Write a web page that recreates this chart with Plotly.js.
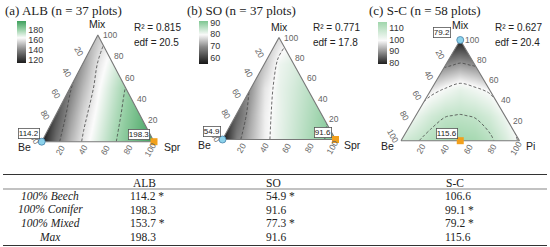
<!DOCTYPE html>
<html>
<head>
<meta charset="utf-8">
<script src="https://cdn.plot.ly/plotly-3.0.1.min.js"></script>
<style>
  html, body { margin: 0; padding: 0; background: #fff; }
  #chart { width: 550px; height: 247px; }
</style>
</head>
<body>
<div id="chart"></div>
<script>
// Grid of the fitted surfaces: x runs along the base (Be -> conifer), y from base to the Mix apex
const gridX = [0, 0.125, 0.25, 0.375, 0.5, 0.625, 0.75, 0.875, 1];
const gridY = [0, 0.25, 0.5, 0.75, 1];

// ALB surface, one row per gridY level
const albRow0 = [114.2, 136.0, 150.3, 161.8, 169.8, 177.8, 184.8, 191.6, 198.3];
const albRow1 = [110, 128, 144.6, 157.8, 166.8, 175.1, 182.7, 189.5, 196];
const albRow2 = [112, 125, 138.5, 152, 163.7, 172.3, 180.5, 188.5, 196];
const albRow3 = [110, 120, 132, 146, 160, 168, 176, 184, 192];
const albRow4 = [116, 126, 136, 145, 153.7, 163, 172, 180, 188];

// SO surface
const soRow0 = [54.9, 68.5, 73.6, 79, 81.8, 84.3, 86.9, 89.5, 91.6];
const soRow1 = [56.6, 64.5, 72.4, 78.8, 81.5, 83.9, 86.3, 88.75, 91.2];
const soRow2 = [58.3, 64.5, 70.7, 78, 81.5, 83.4, 85.6, 87.8, 90];
const soRow3 = [60, 65, 70, 75, 81, 82.5, 84.5, 86.5, 88.5];
const soRow4 = [62, 66, 70, 74, 77.3, 80.5, 83, 85.5, 88];

// S-C surface
const scRow0 = [106.6, 109.3, 112.5, 114.8, 115.6, 114.5, 111.5, 106, 99.1];
const scRow1 = [98, 102.5, 107, 109.7, 110.3, 109.5, 106.5, 101.5, 96];
const scRow2 = [89, 93, 98, 101, 103.5, 101.5, 99, 93.5, 89.5];
const scRow3 = [82, 85, 87, 89, 91, 89.5, 87, 85, 82];
const scRow4 = [76, 77, 78, 78.5, 79.2, 78.5, 78, 77, 76];

const panelTitles = ['(a) ALB (n = 37 plots)', '(b) SO (n = 37 plots)', '(c) S-C (n = 58 plots)'];
const rSquared = ['0.815', '0.771', '0.627'];
const edfVals = ['20.5', '17.8', '20.4'];
const rightVertex = ['Spr', 'Spr', 'Pi'];
const cbTicks = [[120, 140, 160, 180], [60, 70, 80, 90], [80, 90, 100, 110]];
const contourLevels = [[140, 180, 20], [70, 90, 10], [90, 110, 10]];
const ternTicks = [20, 40, 60, 80, 100];

// min (circle) and max (square) points, composition as [Mix, Be, conifer]
const minPts = [[0, 1, 0], [0, 1, 0], [1, 0, 0]];
const maxPts = [[0, 0, 1], [0, 0, 1], [0, 0.5, 0.5]];
const minVals = [114.2, 54.9, 79.2];
const maxVals = [198.3, 91.6, 115.6];

// table below the plots
const tableCols = ['ALB', 'SO', 'S-C'];
const rowLabels = ['100% Beech', '100% Conifer', '100% Mixed', 'Max'];
const albTable = [114.2, 198.3, 153.7, 198.3];
const soTable = [54.9, 91.6, 77.3, 91.6];
const scTable = [106.6, 99.1, 79.2, 115.6];
const albSig = [true, false, true, false];
const soSig = [true, false, true, false];
const scSig = [false, true, true, false];

const W = 550, H = 247;
const px = v => v / W;
const py = v => 1 - v / H;

// pixel geometry of each triangle: left corner x, right corner x, base y, apex y
const geom = [
  {l: 41.7, r: 154, b: 141.7, t: 35},
  {l: 222.5, r: 335.5, b: 139.5, t: 37.5},
  {l: 401, r: 519.5, b: 140.7, t: 40}
];
const pad = 0.04;

const colorscales = [
  [[0, 'rgb(28,28,28)'], [0.3, 'rgb(128,128,128)'], [0.6, 'rgb(252,252,252)'], [0.8, 'rgb(150,208,165)'], [1, 'rgb(62,160,92)']],
  [[0, 'rgb(22,22,22)'], [0.4, 'rgb(138,138,138)'], [0.68, 'rgb(250,250,250)'], [1, 'rgb(125,198,145)']],
  [[0, 'rgb(30,30,30)'], [0.15, 'rgb(90,90,90)'], [0.3, 'rgb(150,150,150)'], [0.56, 'rgb(250,250,250)'], [1, 'rgb(160,214,172)']]
];

const surfaces = [
  [albRow0, albRow1, albRow2, albRow3, albRow4],
  [soRow0, soRow1, soRow2, soRow3, soRow4],
  [scRow0, scRow1, scRow2, scRow3, scRow4]
];
const cbBox = [
  {x: 16.7, top: 20.7, len: 42},
  {x: 199, top: 20.7, len: 42.6},
  {x: 378, top: 21.7, len: 41.6}
];

// composition [Mix, Be, conifer] -> triangle coordinates
function tern(c) {
  return {x: c[2] + c[0] / 2, y: c[0]};
}

const sans = 'Liberation Sans, Arial, sans-serif';
const serif = 'Liberation Serif, Times New Roman, serif';

const data = [];
const layout = {
  width: W, height: H,
  margin: {l: 0, r: 0, t: 0, b: 0},
  paper_bgcolor: '#fff',
  plot_bgcolor: 'rgba(0,0,0,0)',
  showlegend: false,
  annotations: [],
  shapes: []
};

geom.forEach((g, i) => {
  const n = i === 0 ? '' : String(i + 1);
  const xa = 'x' + n, ya = 'y' + n;
  const wpx = g.r - g.l, hpx = g.b - g.t;
  layout['xaxis' + n] = {
    domain: [px(g.l - pad * wpx), px(g.r + pad * wpx)],
    range: [-pad, 1 + pad], visible: false, fixedrange: true, anchor: ya
  };
  layout['yaxis' + n] = {
    domain: [py(g.b + pad * hpx), py(g.t - pad * hpx)],
    range: [-pad, 1 + pad], visible: false, fixedrange: true, anchor: xa
  };

  const z = surfaces[i];
  const lv = contourLevels[i];

  // shaded surface
  data.push({
    type: 'contour', x: gridX, y: gridY, z: z, xaxis: xa, yaxis: ya,
    zauto: false, zmin: minVals[i], zmax: maxVals[i],
    colorscale: colorscales[i],
    autocontour: false,
    contours: {coloring: 'heatmap', showlines: false, start: lv[0], end: lv[1], size: lv[2]},
    line: {width: 0},
    hoverinfo: 'skip',
    showscale: true,
    colorbar: {
      x: px(cbBox[i].x), xanchor: 'left', xpad: 0,
      y: py(cbBox[i].top), yanchor: 'top', ypad: 0,
      len: cbBox[i].len, lenmode: 'pixels', thickness: 9,
      outlinewidth: 0, ticks: '', tickvals: cbTicks[i],
      tickfont: {family: sans, size: 9, color: '#333'}
    }
  });
  // dashed contour lines
  data.push({
    type: 'contour', x: gridX, y: gridY, z: z, xaxis: xa, yaxis: ya,
    autocontour: false,
    contours: {coloring: 'none', showlines: true, start: lv[0], end: lv[1], size: lv[2]},
    line: {color: 'rgb(70,70,70)', width: 0.8, dash: '3px,2px', smoothing: 1},
    hoverinfo: 'skip', showscale: false
  });
  // white mask outside the triangle
  data.push({
    type: 'scatter', mode: 'none', xaxis: xa, yaxis: ya,
    x: [-0.2, 1.2, 1.2, -0.2, -0.2, 0, 0.5, 1, 0, -0.2],
    y: [-0.2, -0.2, 1.2, 1.2, -0.2, 0, 1, 0, 0, -0.2],
    fill: 'toself', fillcolor: '#fff', line: {width: 0}, hoverinfo: 'skip'
  });
  // triangle outline
  data.push({
    type: 'scatter', mode: 'lines', xaxis: xa, yaxis: ya,
    x: [0, 0.5, 1, 0], y: [0, 1, 0, 0],
    line: {color: 'rgb(120,120,120)', width: 1.1}, hoverinfo: 'skip'
  });
  // min and max points
  const pmin = tern(minPts[i]), pmax = tern(maxPts[i]);
  data.push({
    type: 'scatter', mode: 'markers', xaxis: xa, yaxis: ya, cliponaxis: false,
    x: [pmin.x], y: [pmin.y],
    marker: {symbol: 'circle', size: 7, color: 'rgb(140,210,235)', line: {color: 'rgb(70,130,170)', width: 0.8}},
    hoverinfo: 'skip'
  });
  data.push({
    type: 'scatter', mode: 'markers', xaxis: xa, yaxis: ya, cliponaxis: false,
    x: [pmax.x], y: [pmax.y],
    marker: {symbol: 'square', size: 7, color: 'rgb(242,160,28)', line: {width: 0}},
    hoverinfo: 'skip'
  });

  const tickFont = {family: sans, size: 8.5, color: '#666'};
  ternTicks.forEach(v => {
    const f = v / 100;
    const pl = tern([1 - f, f, 0]);
    layout.annotations.push({xref: xa, yref: ya, x: pl.x, y: pl.y, text: String(v), showarrow: false,
      textangle: 60, xshift: -8, yshift: 5, font: tickFont});
    const pb = tern([0, 1 - f, f]);
    layout.annotations.push({xref: xa, yref: ya, x: pb.x, y: pb.y, text: String(v), showarrow: false,
      textangle: -60, xshift: -4, yshift: -8, font: tickFont});
    const pr = tern([f, 0, 1 - f]);
    layout.annotations.push({xref: xa, yref: ya, x: pr.x, y: pr.y, text: String(v), showarrow: false,
      xanchor: 'left', xshift: 3, font: tickFont});
  });

  const vFont = {family: sans, size: 10.5, color: '#222'};
  layout.annotations.push({xref: xa, yref: ya, x: 0.5, y: 1, text: 'Mix', showarrow: false,
    yanchor: 'bottom', yshift: [3, 3, 7][i], font: vFont});
  layout.annotations.push({xref: xa, yref: ya, x: 0, y: 0, text: 'Be', showarrow: false,
    xanchor: 'right', xshift: [-9, -10, -5][i], yshift: -5, font: vFont});
  layout.annotations.push({xref: xa, yref: ya, x: 1, y: 0, text: rightVertex[i], showarrow: false,
    xanchor: 'left', xshift: [8, 6, 4][i], yshift: -5, font: vFont});

  // boxed values next to min and max
  const boxFont = {family: sans, size: 8, color: '#222'};
  const minShift = [[-1.5, 2.5], [-1.5, 2.5], [-9, 2.5]][i];
  const maxShift = [[-4, 2], [-4, 2], [-2, 1.5]][i];
  layout.annotations.push({xref: xa, yref: ya, x: pmin.x, y: pmin.y, text: minVals[i].toFixed(1),
    showarrow: false, xanchor: 'right', yanchor: 'bottom', xshift: minShift[0], yshift: minShift[1],
    bgcolor: '#fff', bordercolor: '#555', borderwidth: 0.8, borderpad: 0, font: boxFont});
  layout.annotations.push({xref: xa, yref: ya, x: pmax.x, y: pmax.y, text: maxVals[i].toFixed(1),
    showarrow: false, xanchor: 'right', yanchor: 'bottom', xshift: maxShift[0], yshift: maxShift[1],
    bgcolor: '#fff', bordercolor: '#555', borderwidth: 0.8, borderpad: 0, font: boxFont});

  // panel title and fit statistics
  layout.annotations.push({xref: 'paper', yref: 'paper', x: px([3, 184.5, 366.5][i]), y: py(10),
    text: panelTitles[i], showarrow: false, xanchor: 'left', yanchor: 'middle',
    font: {family: serif, size: 13, color: '#222'}});
  const statX = px([132, 311, 493][i]);
  layout.annotations.push({xref: 'paper', yref: 'paper', x: statX, y: py(28),
    text: 'R² = ' + rSquared[i], showarrow: false, xanchor: 'left', yanchor: 'middle',
    font: {family: sans, size: 10, color: '#222'}});
  layout.annotations.push({xref: 'paper', yref: 'paper', x: statX, y: py(43),
    text: 'edf = ' + edfVals[i], showarrow: false, xanchor: 'left', yanchor: 'middle',
    font: {family: sans, size: 10, color: '#222'}});
});

// table
const tFont = {family: serif, size: 11.5, color: '#222'};
const rowY = [196, 209.5, 223, 236.5];
const colHeadX = [144, 273, 455];
const colValX = [128, 263.5, 442.5];
const tableVals = [albTable, soTable, scTable];
const tableSig = [albSig, soSig, scSig];
tableCols.forEach((c, j) => {
  layout.annotations.push({xref: 'paper', yref: 'paper', x: px(colHeadX[j]), y: py(182.5), text: c,
    showarrow: false, xanchor: 'center', yanchor: 'middle', font: tFont});
});
rowLabels.forEach((r, k) => {
  layout.annotations.push({xref: 'paper', yref: 'paper', x: px(50), y: py(rowY[k]), text: '<i>' + r + '</i>',
    showarrow: false, xanchor: 'center', yanchor: 'middle', font: tFont});
  tableVals.forEach((vals, j) => {
    layout.annotations.push({xref: 'paper', yref: 'paper', x: px(colValX[j]), y: py(rowY[k]),
      text: vals[k].toFixed(1) + (tableSig[j][k] ? ' *' : ''),
      showarrow: false, xanchor: 'left', yanchor: 'middle', font: tFont});
  });
});
[[174.5, 1], [189, 0.6], [245.5, 1]].forEach(([yy, w]) => {
  layout.shapes.push({type: 'line', xref: 'paper', yref: 'paper', x0: px(3), x1: px(547),
    y0: py(yy), y1: py(yy), line: {color: '#333', width: w}});
});

Plotly.newPlot('chart', data, layout, {displayModeBar: false, staticPlot: true});
</script>
</body>
</html>
